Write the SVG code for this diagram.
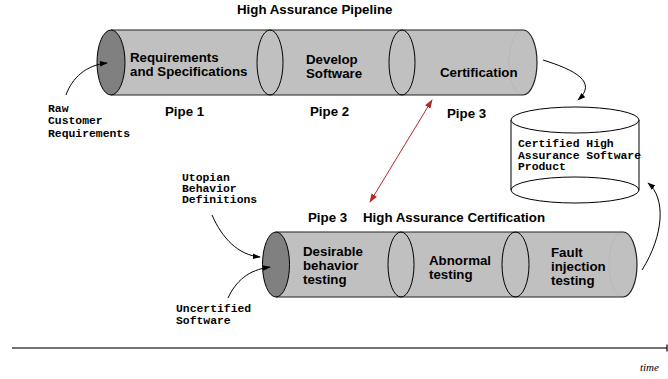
<svg xmlns="http://www.w3.org/2000/svg" width="668" height="379" viewBox="0 0 668 379">
  <defs>
    <marker id="ah" viewBox="0 0 10 10" refX="9" refY="5" markerWidth="8" markerHeight="8" markerUnits="userSpaceOnUse" orient="auto">
      <path d="M0,1.5 L10,5 L0,8.5 Z" fill="#000"/>
    </marker>
    <marker id="ahRed" viewBox="0 0 10 10" refX="9" refY="5" markerWidth="9" markerHeight="9" markerUnits="userSpaceOnUse" orient="auto-start-reverse">
      <path d="M0,1.5 L10,5 L0,8.5 Z" fill="#b02a2a"/>
    </marker>
    <style>
      .lbl { font-family: "Liberation Sans", Arial, sans-serif; font-weight: bold; font-size: 13.3px; fill: #000; }
      .mono { font-family: "Liberation Mono", "Courier New", monospace; font-weight: bold; font-size: 11.4px; fill: #000; }
      .body { fill: #c0c0c0; }
      .edge { fill: none; stroke: #222; stroke-width: 1.2; }
      .cap { fill: #808080; stroke: #000; stroke-width: 1; }
      .sep { fill: none; stroke: #000; stroke-width: 1; }
      .back { fill: none; stroke: #b2b2b2; stroke-width: 0.6; }
      .conn { fill: none; stroke: #000; stroke-width: 1; marker-end: url(#ah); }
    </style>
  </defs>

  <!-- upper pipeline: three joined pipe segments -->
  <g id="pipeline-top">
    <text class="lbl" x="237" y="14">High Assurance Pipeline</text>
    <rect class="body" x="111" y="30" width="412" height="65"/>
    <path class="body" d="M523,30 A14,32.5 0 0 1 523,95 Z"/>
    <path class="back" d="M523,30 A14,32.5 0 0 0 523,95"/>
    <path class="edge" d="M111,30 H523 A14,32.5 0 0 1 523,95 H111"/>
    <ellipse class="cap" cx="111" cy="62.5" rx="14" ry="32.5"/>
  </g>

  <g id="pipe1">
    <text class="lbl" x="130" y="62">Requirements</text>
    <text class="lbl" x="130" y="76">and Specifications</text>
    <text class="lbl" x="165" y="116">Pipe 1</text>
  </g>

  <g id="pipe2">
    <ellipse class="sep" cx="270" cy="62.5" rx="13" ry="32.5"/>
    <text class="lbl" x="306" y="64">Develop</text>
    <text class="lbl" x="306" y="78">Software</text>
    <text class="lbl" x="310" y="116">Pipe 2</text>
  </g>

  <g id="pipe3">
    <ellipse class="sep" cx="402" cy="62.5" rx="13" ry="32.5"/>
    <text class="lbl" x="440" y="77">Certification</text>
    <text class="lbl" x="447" y="118">Pipe 3</text>
  </g>

  <g id="raw-requirements">
    <text class="mono" x="48" y="112">Raw</text>
    <text class="mono" x="48" y="124">Customer</text>
    <text class="mono" x="48" y="137">Requirements</text>
  </g>

  <!-- product store -->
  <g id="certified-product">
    <path fill="#fff" stroke="#000" stroke-width="1" d="M511,120 V190 A64,13 0 0 0 639,190 V120"/>
    <ellipse fill="#fff" stroke="#000" stroke-width="1" cx="575" cy="120" rx="64" ry="13"/>
    <path fill="none" stroke="#000" stroke-width="1" d="M511,190 A64,13 0 0 1 639,190"/>
    <text class="mono" x="518" y="147">Certified High</text>
    <text class="mono" x="518" y="159">Assurance Software</text>
    <text class="mono" x="518" y="170">Product</text>
  </g>

  <!-- lower pipeline: certification stages -->
  <g id="pipeline-bottom">
    <text class="lbl" x="308" y="222">Pipe 3</text>
    <text class="lbl" x="363" y="222">High Assurance Certification</text>
    <rect class="body" x="276" y="232" width="347" height="65"/>
    <path class="body" d="M623,232 A14,32.5 0 0 1 623,297 Z"/>
    <path class="back" d="M623,232 A14,32.5 0 0 0 623,297"/>
    <path class="edge" d="M276,232 H623 A14,32.5 0 0 1 623,297 H276"/>
    <ellipse class="cap" cx="276" cy="264.5" rx="13.5" ry="32.5"/>
  </g>

  <g id="desirable-testing">
    <text class="lbl" x="303" y="256">Desirable</text>
    <text class="lbl" x="303" y="270">behavior</text>
    <text class="lbl" x="303" y="284">testing</text>
  </g>

  <g id="abnormal-testing">
    <ellipse class="sep" cx="401" cy="264.5" rx="13" ry="32.5"/>
    <text class="lbl" x="429" y="265">Abnormal</text>
    <text class="lbl" x="429" y="279">testing</text>
  </g>

  <g id="fault-injection-testing">
    <ellipse class="sep" cx="515.5" cy="264.5" rx="13.5" ry="32.5"/>
    <text class="lbl" x="551" y="257">Fault</text>
    <text class="lbl" x="551" y="271">injection</text>
    <text class="lbl" x="551" y="285">testing</text>
  </g>

  <g id="utopian-definitions">
    <text class="mono" x="182" y="181">Utopian</text>
    <text class="mono" x="182" y="192">Behavior</text>
    <text class="mono" x="182" y="203">Definitions</text>
  </g>

  <g id="uncertified-software">
    <text class="mono" x="176" y="312">Uncertified</text>
    <text class="mono" x="176" y="324">Software</text>
  </g>

  <!-- timeline -->
  <g id="timeline">
    <line x1="12" y1="348" x2="667" y2="348" stroke="#444" stroke-width="1.5"/>
    <line x1="667" y1="344.5" x2="667" y2="351.5" stroke="#000" stroke-width="1.2"/>
    <text x="640" y="371" font-family="Liberation Serif, 'Times New Roman', serif" font-style="italic" font-size="11px" fill="#000">time</text>
  </g>

  <g id="connectors">
    <path class="conn" d="M66,95 C72,78 86,65 107,63"/>
    <path class="conn" d="M543,60 C575,70 598,82 578,100"/>
    <path class="conn" d="M642,270 C664,235 666,198 648,183"/>
    <path class="conn" d="M212,215 C222,238 238,255 260,257"/>
    <path class="conn" d="M228,298 C236,281 248,270 270,267"/>
    <line x1="432" y1="100" x2="370" y2="202" stroke="#b02a2a" stroke-width="1" marker-start="url(#ahRed)" marker-end="url(#ahRed)"/>
  </g>
</svg>
